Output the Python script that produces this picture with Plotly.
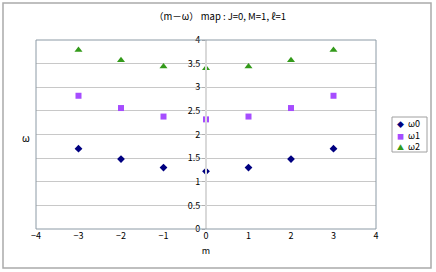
import plotly.graph_objects as go

m_vals = [-3, -2, -1, 0, 1, 2, 3]
omega0 = [1.70, 1.48, 1.30, 1.22, 1.30, 1.48, 1.70]
omega1 = [2.82, 2.56, 2.38, 2.32, 2.38, 2.56, 2.82]
omega2 = [3.79, 3.57, 3.44, 3.40, 3.44, 3.57, 3.79]
series_names = ["ω0", "ω1", "ω2"]
x_ticks = [-4, -3, -2, -1, 0, 1, 2, 3, 4]
y_ticks = [0, 0.5, 1, 1.5, 2, 2.5, 3, 3.5, 4]

W, H = 436, 272
L, R, T, B = 36, 60, 40, 43
pw, ph = W - L - R, H - T - B

font = "Noto Sans CJK JP, DejaVu Sans, sans-serif"
colors = ["#000080", "#a64dff", "#339a1a"]
symbols = ["diamond", "square", "triangle-up"]
glyphs = ["◆", "■", "▲"]
sizes = [6, 6, 7]

fig = go.Figure()
for vals, name, c, s, sz in zip([omega0, omega1, omega2], series_names, colors, symbols, sizes):
    fig.add_trace(go.Scatter(x=m_vals, y=vals, mode="markers", name=name, showlegend=False,
                             marker=dict(symbol=s, size=sz, color=c)))

def px(x):
    return (x - L) / pw

def py(y):
    return (H - B - y) / ph

fig.update_layout(
    width=W, height=H,
    margin=dict(l=L, r=R, t=T, b=B, autoexpand=False),
    paper_bgcolor="white", plot_bgcolor="white",
    font=dict(family=font, size=9, color="#000000"),
    title=dict(text="（m－ω） map : J=0, M=1, ℓ=1", x=px(220), xref="paper",
               xanchor="center", y=1 - 17 / H, yanchor="middle",
               font=dict(size=9.5, family=font)),
    xaxis=dict(range=[-4, 4], tickvals=x_ticks, ticktext=[str(v).replace("-", "−") for v in x_ticks],
               showgrid=False, zeroline=False, showline=False, ticks="",
               title=dict(text="m", standoff=6, font=dict(size=9)), tickfont=dict(size=9)),
    yaxis=dict(range=[0, 4], tickvals=y_ticks, ticktext=[f"{v:g}" for v in y_ticks],
               anchor="free", position=0.5,
               showgrid=True, gridcolor="#c8c8c8", gridwidth=1, zeroline=False,
               showline=True, linecolor="#d9d9d9", linewidth=2,
               ticks="outside", ticklen=3, tickcolor="#b0b0b0", tickfont=dict(size=9)),
    showlegend=False,
)

# plot area border
fig.add_shape(type="rect", xref="paper", yref="paper", x0=0, x1=1, y0=0, y1=1,
              line=dict(color="#8c9aa5", width=1), layer="above")
# chart area border
fig.add_shape(type="rect", xref="paper", yref="paper",
              x0=px(3), x1=px(431), y0=py(268), y1=py(3),
              line=dict(color="#aaaaaa", width=1.5))

# legend box
fig.add_shape(type="rect", xref="paper", yref="paper",
              x0=px(392), x1=px(427), y0=py(152), y1=py(117),
              line=dict(color="#a0a0a0", width=1), fillcolor="white")
legend_text = "<br>".join(
    f'<span style="color:{c};font-size:7px">{g}</span>  {name}'
    for name, c, g in zip(series_names, colors, glyphs))
fig.add_annotation(
    text=legend_text, xref="paper", yref="paper", x=px(395), y=py(135),
    xanchor="left", yanchor="middle", align="left", showarrow=False,
    font=dict(size=9, family=font))

fig.add_annotation(text="ω", xref="paper", yref="paper", x=px(20), y=py(137),
                   showarrow=False, font=dict(size=10, family=font))

fig.write_html("out.html", config={"displayModeBar": False},
               post_script="document.body.style.margin='0';document.body.style.padding='0';")
